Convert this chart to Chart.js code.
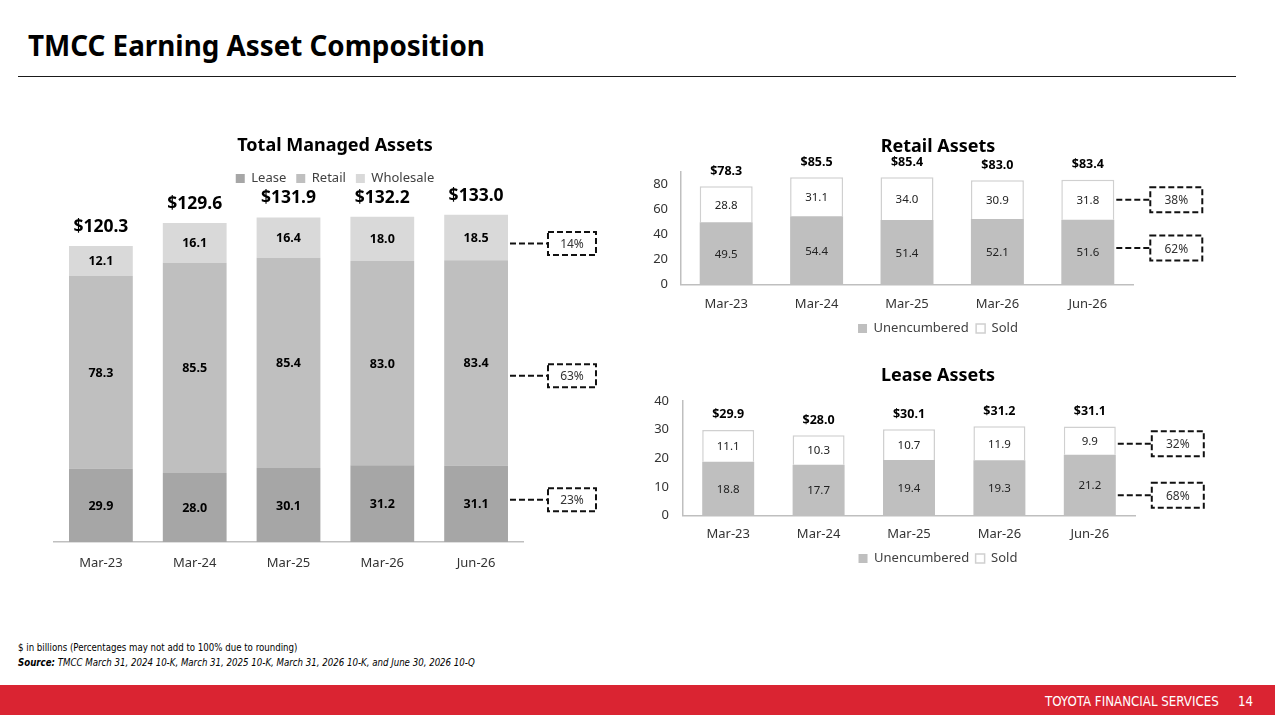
<!DOCTYPE html>
<html>
<head>
<meta charset="utf-8">
<script src="https://cdn.jsdelivr.net/npm/chart.js@4.4.1/dist/chart.umd.min.js"></script>
<style>
  html, body { margin: 0; padding: 0; }
  body { width: 1275px; height: 715px; position: relative; background: #fff; overflow: hidden; font-family: 'Noto Sans', sans-serif; }
  .pageTitle { position: absolute; left: 28px; top: 26px; margin: 0; font-size: 27.8px; line-height: 38px; font-weight: 700; color: #000; white-space: nowrap; }
  .rule { position: absolute; left: 18px; top: 76px; width: 1218px; height: 1px; background: #1a1a1a; }
  canvas { position: absolute; }
  #c1 { left: 40px; top: 121px; }
  #c2 { left: 640px; top: 126px; }
  #c3 { left: 640px; top: 356px; }
  .note { position: absolute; left: 18px; font-family: 'Liberation Sans Narrow', 'DejaVu Sans Condensed', sans-serif; font-size: 9.6px; line-height: 13px; color: #000; white-space: nowrap; }
  .note i b { font-weight: 700; }
  .band { position: absolute; left: 0; top: 685px; width: 1275px; height: 30px; background: #DA2432; }
  .brand { position: absolute; left: 1045px; top: 694px; font-family: 'Liberation Sans Narrow', 'DejaVu Sans Condensed', sans-serif; font-size: 13.2px; line-height: 16px; color: #fff; white-space: nowrap; }
  .pageNo { position: absolute; left: 1238px; top: 694px; font-family: 'Liberation Sans Narrow', 'DejaVu Sans Condensed', sans-serif; font-size: 13.2px; line-height: 16px; color: #fff; }
</style>
</head>
<body>
<h1 class="pageTitle">TMCC Earning Asset Composition</h1>
<div class="rule"></div>

<canvas id="c1" width="590" height="461"></canvas>
<canvas id="c2" width="596" height="219"></canvas>
<canvas id="c3" width="596" height="219"></canvas>

<div class="note" style="top:641px;">$ in billions (Percentages may not add to 100% due to rounding)</div>
<div class="note" style="top:656px;"><i><b>Source:</b> TMCC March 31, 2024 10-K, March 31, 2025 10-K, March 31, 2026 10-K, and June 30, 2026 10-Q</i></div>

<div class="band"></div>
<div class="brand">TOYOTA FINANCIAL SERVICES</div>
<div class="pageNo">14</div>

<script>
// ---------------- DATA ----------------
const categories = ['Mar-23', 'Mar-24', 'Mar-25', 'Mar-26', 'Jun-26'];

const managedLease     = [29.9, 28.0, 30.1, 31.2, 31.1];
const managedRetail    = [78.3, 85.5, 85.4, 83.0, 83.4];
const managedWholesale = [12.1, 16.1, 16.4, 18.0, 18.5];
const managedTotals    = [120.3, 129.6, 131.9, 132.2, 133.0];
const managedShares    = ['23%', '63%', '14%'];   // lease, retail, wholesale

const retailUnencumbered = [49.5, 54.4, 51.4, 52.1, 51.6];
const retailSold         = [28.8, 31.1, 34.0, 30.9, 31.8];
const retailTotals       = [78.3, 85.5, 85.4, 83.0, 83.4];
const retailShares       = ['62%', '38%'];        // unencumbered, sold
const retailTicks        = [0, 20, 40, 60, 80];

const leaseUnencumbered = [18.8, 17.7, 19.4, 19.3, 21.2];
const leaseSold         = [11.1, 10.3, 10.7, 11.9, 9.9];
const leaseTotals       = [29.9, 28.0, 30.1, 31.2, 31.1];
const leaseShares       = ['68%', '32%'];         // unencumbered, sold
const leaseTicks        = [0, 10, 20, 30, 40];

// ---------------- STYLE / HELPERS ----------------
Chart.defaults.font.family = "'Noto Sans', sans-serif";
Chart.defaults.color = '#333';
Chart.defaults.animation = false;

const annotPlugin = {
  id: 'annot',
  afterDatasetsDraw(chart, args, o) {
    const ctx = chart.ctx;
    ctx.save();
    ctx.textAlign = 'center';
    ctx.textBaseline = 'middle';
    // segment values
    chart.data.datasets.forEach((ds, di) => {
      chart.getDatasetMeta(di).data.forEach((bar, i) => {
        const p = bar.getProps(['x', 'y', 'base'], true);
        ctx.font = o.segFont;
        ctx.fillStyle = o.segColor;
        ctx.fillText(ds.data[i].toFixed(1), p.x, (p.y + p.base) / 2 + 1);
      });
    });
    // totals
    const last = chart.getDatasetMeta(chart.data.datasets.length - 1);
    last.data.forEach((bar, i) => {
      const p = bar.getProps(['x', 'y'], true);
      ctx.font = o.totFont;
      ctx.fillStyle = '#000';
      ctx.fillText('$' + o.totals[i].toFixed(1), p.x, p.y - o.totGap);
    });
    // callouts for the last category
    const n = categories.length - 1;
    o.shares.forEach((s, di) => {
      const bar = chart.getDatasetMeta(di).data[n];
      const p = bar.getProps(['x', 'y', 'base', 'width'], true);
      const cy = (p.y + p.base) / 2 + o.shareDy[di];
      const right = p.x + p.width / 2;
      const bx = right + o.boxGap;
      ctx.strokeStyle = '#111';
      ctx.lineWidth = 2;
      ctx.setLineDash([6, 3]);
      ctx.beginPath();
      ctx.moveTo(right + 2, cy);
      ctx.lineTo(bx, cy);
      ctx.stroke();
      ctx.strokeRect(bx, cy - o.boxH / 2, o.boxW, o.boxH);
      ctx.setLineDash([]);
      ctx.font = o.boxFont;
      ctx.fillStyle = '#333';
      ctx.fillText(s, bx + o.boxW / 2, cy + 1);
    });
    ctx.restore();
  }
};

function spacer(w, pos) {
  return {
    type: 'linear', position: pos, display: true,
    grid: { display: false }, border: { display: false }, ticks: { display: false },
    afterFit: s => { s.width = w; }
  };
}

// ---------------- CHART 1: Total Managed Assets ----------------
new Chart(document.getElementById('c1'), {
  type: 'bar',
  data: {
    labels: categories,
    datasets: [
      { label: 'Lease', data: managedLease, backgroundColor: '#A6A6A6', borderWidth: 0 },
      { label: 'Retail', data: managedRetail, backgroundColor: '#BFBFBF', borderWidth: 0 },
      { label: 'Wholesale', data: managedWholesale, backgroundColor: '#D9D9D9', borderWidth: 0 }
    ]
  },
  options: {
    responsive: false,
    categoryPercentage: 1,
    barPercentage: 0.68,
    layout: { padding: 0 },
    scales: {
      x: {
        stacked: true,
        grid: { display: false, drawTicks: false },
        border: { display: true, color: '#BFBFBF', width: 1.5 },
        ticks: { padding: 13.2, font: { size: 13 }, color: '#333' },
        afterFit: s => { s.height = 40; }
      },
      y: Object.assign(spacer(14, 'left'), { stacked: true, min: 0, max: 141 }),
      r: spacer(107, 'right')
    },
    plugins: {
      title: { display: true, text: 'Total Managed Assets', font: { size: 18, weight: 'bold' }, color: '#000', padding: { top: 14.2, bottom: 5.2 } },
      legend: { display: true, position: 'top', labels: { boxWidth: 9, boxHeight: 9, padding: 10, font: { size: 13 }, color: '#404040' } },
      tooltip: { enabled: false },
      annot: {
        segFont: "bold 12.5px 'Noto Sans'", segColor: '#000',
        totFont: "bold 17.5px 'Noto Sans'", totGap: 19, totals: managedTotals,
        shares: managedShares, shareDy: [-4, 13, 6],
        boxGap: 40, boxW: 48, boxH: 23, boxFont: "12px 'Noto Sans'"
      }
    }
  },
  plugins: [annotPlugin]
});

// ---------------- CHART 2/3: Retail & Lease ----------------
function smallChart(id, title, unenc, sold, totals, shares, ticksArr, max, leftW, rightW, tickPadY, layoutV) {
  new Chart(document.getElementById(id), {
    type: 'bar',
    data: {
      labels: categories,
      datasets: [
        { label: 'Unencumbered', data: unenc, backgroundColor: '#BFBFBF', borderWidth: 0 },
        { label: 'Sold', data: sold, backgroundColor: '#FFFFFF', borderColor: '#D0D0D0', borderWidth: 1.5 }
      ]
    },
    options: {
      responsive: false,
      categoryPercentage: 1,
      barPercentage: layoutV.barPct,
      layout: { padding: 0 },
      scales: {
        x: {
          stacked: true,
          grid: { display: false, drawTicks: false },
          border: { display: true, color: '#BFBFBF', width: 1.5 },
          ticks: { padding: layoutV.xPad, font: { size: 13 }, color: '#333' },
          afterFit: s => { s.height = 30; }
        },
        y: {
          stacked: true, min: 0, max: max,
          grid: { display: false, drawTicks: false },
          border: { display: true, color: '#BFBFBF', width: 1.5 },
          ticks: { padding: tickPadY, font: { size: 13 }, color: '#333' },
          afterBuildTicks: s => { s.ticks = ticksArr.map(v => ({ value: v })); },
          afterFit: s => { s.width = leftW; }
        },
        r: spacer(rightW, 'right')
      },
      plugins: {
        title: { display: true, text: title, font: { size: 18, weight: 'bold' }, color: '#000', padding: { top: layoutV.tTop, bottom: layoutV.tBot } },
        legend: { display: true, position: 'bottom', labels: { boxWidth: 9, boxHeight: 9, padding: layoutV.lPad, font: { size: 13 }, color: '#404040' } },
        tooltip: { enabled: false },
        annot: {
          segFont: "11.5px 'Noto Sans'", segColor: '#222',
          totFont: "bold 12.5px 'Noto Sans'", totGap: 15, totals: totals,
          shares: shares, shareDy: layoutV.shareDy,
          boxGap: 36, boxW: 52, boxH: 25, boxFont: "12px 'Noto Sans'"
        }
      }
    },
    plugins: [annotPlugin]
  });
}

smallChart('c2', 'Retail Assets', retailUnencumbered, retailSold, retailTotals, retailShares, retailTicks, 90, 41, 103, 13,
  { barPct: 0.586, xPad: 12.2, tTop: 10.2, tBot: 13.7, lPad: 7.5, shareDy: [-4, 0] });
smallChart('c3', 'Lease Assets', leaseUnencumbered, leaseSold, leaseTotals, leaseShares, leaseTicks, 40, 43, 101, 14,
  { barPct: 0.575, xPad: 11.2, tTop: 9.2, tBot: 14.2, lPad: 6.5, shareDy: [10, 3] });
</script>
</body>
</html>
